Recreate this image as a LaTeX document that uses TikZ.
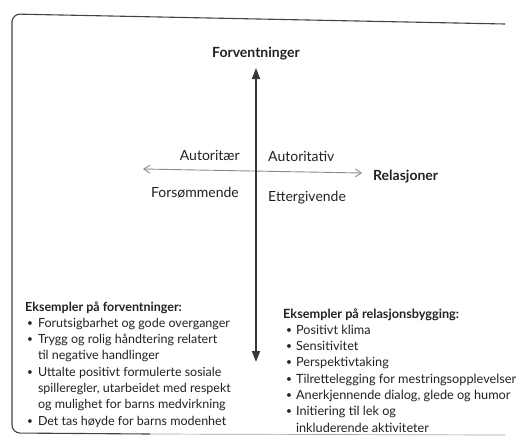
\documentclass[tikz,border=0pt]{standalone}
\usepackage{fontspec}
\setmainfont{Lato}
\usetikzlibrary{arrows.meta}
\definecolor{ink}{HTML}{222222}
\tikzset{
  lbl/.style={inner sep=0pt, text=ink, font=\fontsize{14}{16}\selectfont},
  axislbl/.style={inner sep=0pt, text=ink, font=\fontsize{14}{16}\selectfont\bfseries},
  listbox/.style={inner sep=0pt, text=ink, align=left},
  leftfont/.style={font=\fontsize{12.5}{16.3}\selectfont},
  rightfont/.style={font=\fontsize{12.7}{16.3}\selectfont},
  frameline/.style={draw=ink!85, line width=1.1pt, rounded corners=8pt},
  vaxis/.style={draw=ink!90, line width=1.8pt, {Triangle[length=11pt,width=8pt]}-{Triangle[length=11pt,width=8pt]}},
  haxis/.style={draw=black!45, line width=0.9pt, {Straight Barb[length=6pt,width=8pt]}-{Straight Barb[length=6pt,width=8pt]}}
}
\newcommand{\blt}{\raisebox{0.15ex}{\scalebox{0.8}{\textbullet}}}
\begin{document}
\begin{tikzpicture}[x=1pt,y=-1pt]
\useasboundingbox[fill=white] (0,0) rectangle (518,445);
% frame
\draw[frameline] (505,24) -- (12,14) -- (12,433) -- (150,434);
\draw[draw=black!35, line width=0.7pt] (150,434) -- (505,435);
% axes
\coordinate (top) at (256,68);
\coordinate (bot) at (256,362);
\coordinate (lft) at (143,169);
\coordinate (rgt) at (362,173);
\draw[haxis] (lft) -- (rgt);
\draw[vaxis] (bot) -- (top);
% axis labels
\node[axislbl, anchor=base] (forv) at (256,57) {Forventninger};
\node[axislbl, anchor=base west] (rel) at (373,180) {Relasjoner};
\node[lbl, anchor=base east] (autr) at (240,160) {Autoritær};
\node[lbl, anchor=base west] (autv) at (268,161) {Autoritativ};
\node[lbl, anchor=base east] (fors) at (239,197) {Forsømmende};
\node[lbl, anchor=base west] (ette) at (268,201) {Ettergivende};
% lists
\node[listbox, leftfont, anchor=base west] (ex1) at (25,311) {%
\begin{tabular}[t]{@{\hspace{2pt}}l@{\hspace{5pt}}l@{}}
\multicolumn{2}{@{}l@{}}{\bfseries Eksempler på forventninger:}\\
\blt & Forutsigbarhet og gode overganger\\
\blt & Trygg og rolig håndtering relatert\\
 & til negative handlinger\\
\blt & Uttalte positivt formulerte sosiale\\
 & spilleregler, utarbeidet med respekt\\
 & og mulighet for barns medvirkning\\
\blt & Det tas høyde for barns modenhet
\end{tabular}};
\node[listbox, rightfont, anchor=base west] (ex2) at (283,318) {%
\begin{tabular}[t]{@{\hspace{3pt}}l@{\hspace{4pt}}l@{}}
\multicolumn{2}{@{}l@{}}{\bfseries Eksempler på relasjonsbygging:}\\
\blt & Positivt klima\\
\blt & Sensitivitet\\
\blt & Perspektivtaking\\
\blt & Tilrettelegging for mestringsopplevelser\\
\blt & Anerkjennende dialog, glede og humor\\
\blt & Initiering til lek og\\
 & inkluderende aktiviteter
\end{tabular}};
\end{tikzpicture}
\end{document}
